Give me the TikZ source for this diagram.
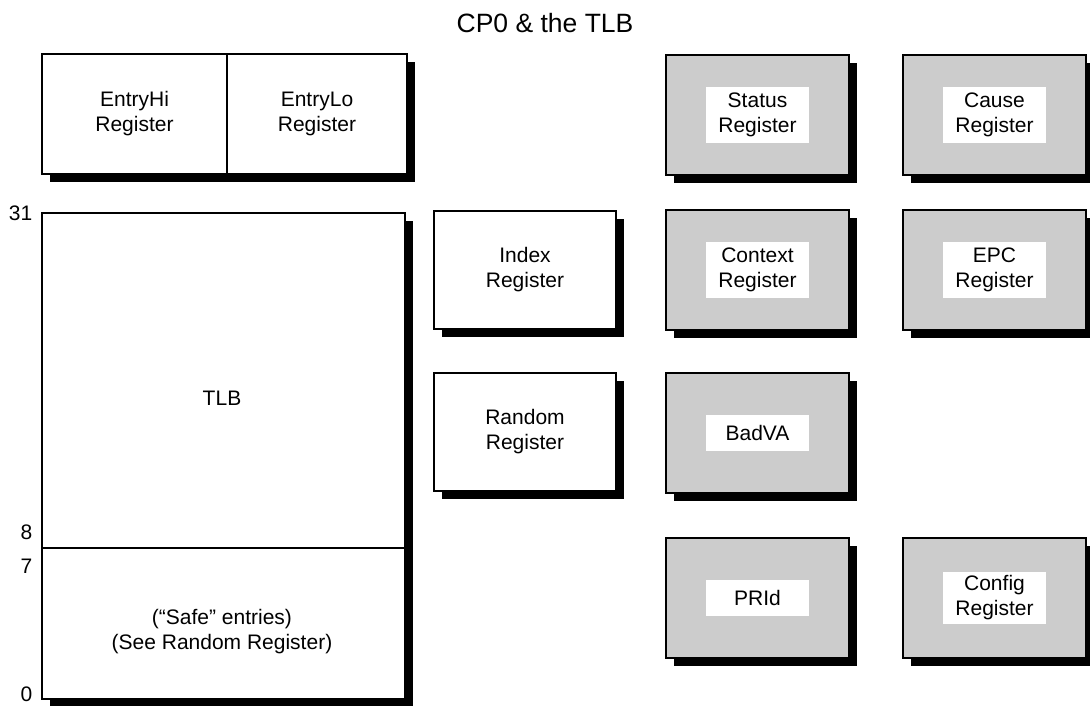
\documentclass[tikz,border=0pt]{standalone}
\usepackage{fontspec}
\setmainfont{Liberation Sans}
\usetikzlibrary{positioning,shadows}

\begin{document}
\begin{tikzpicture}[x=1pt, y=-1pt, line width=1.5pt,
  font=\fontsize{21}{25}\selectfont,
  reg/.style = {draw, fill=white, inner sep=0pt, outer sep=0pt, align=center,
    minimum width=182pt, minimum height=118pt,
    drop shadow={shadow xshift=8pt, shadow yshift=-8pt, opacity=1, fill=black}},
  cp0/.style = {reg, fill=black!20, minimum width=183pt, minimum height=120pt},
  tag/.style = {fill=white, inner xsep=0pt, inner ysep=6pt, minimum width=103pt, align=center},
  num/.style = {anchor=east, inner sep=0pt}]
\useasboundingbox (0,0) rectangle (1090,706);
%\node[style] (name) [relative position] {label};
\node (title) at (545,23) {\fontsize{26.5}{30}\selectfont CP0 \& the TLB};

\node[reg, minimum width=185pt, minimum height=120pt] (entryhi) at (134.5,114) {EntryHi\\Register};
\node[reg, minimum width=180pt, minimum height=120pt] (entrylo) [right=0pt of entryhi] {EntryLo\\Register};

\node[reg, minimum width=363pt, minimum height=486pt] (tlb) at (223.5,456) {};
\coordinate (split) at (0,548);
\draw (tlb.west |- split) -- (tlb.east |- split);
\node (tlbname) at (222,398) {TLB};
\node[align=center] (safe) at (222,632) {(“Safe” entries)\\(See Random Register)};
\node[num] (n31) at (33,213.5) {31};
\node[num] (n8) at (33,532) {8};
\node[num] (n7) at (33,566.5) {7};
\node[num] (n0) at (33,694.5) {0};

\node[reg] (index) at (525,270) {Index\\Register};
\node[reg] (random) [below=44pt of index] {Random\\Register};

\node[cp0] (status) at (757.5,115) {};
\node[cp0] (cause) [right=54pt of status] {};
\node[cp0] (context) [below=35pt of status] {};
\node[cp0] (epc) [below=35pt of cause] {};
\node[cp0] (badva) [below=43pt of context] {};
\node[cp0] (prid) [below=45pt of badva] {};
\node[cp0] (config) [right=54pt of prid] {};

\node[tag] (statustag) at (status) {Status\\Register};
\node[tag] (causetag) at (cause) {Cause\\Register};
\node[tag] (contexttag) at (context) {Context\\Register};
\node[tag] (epctag) at (epc) {EPC\\Register};
\node[tag, inner ysep=10pt] (badvatag) at (badva) {BadVA};
\node[tag, inner ysep=10pt] (pridtag) at (prid) {PRId};
\node[tag, inner ysep=4pt] (configtag) at (config) {Config\\Register};
\end{tikzpicture}
\end{document}
